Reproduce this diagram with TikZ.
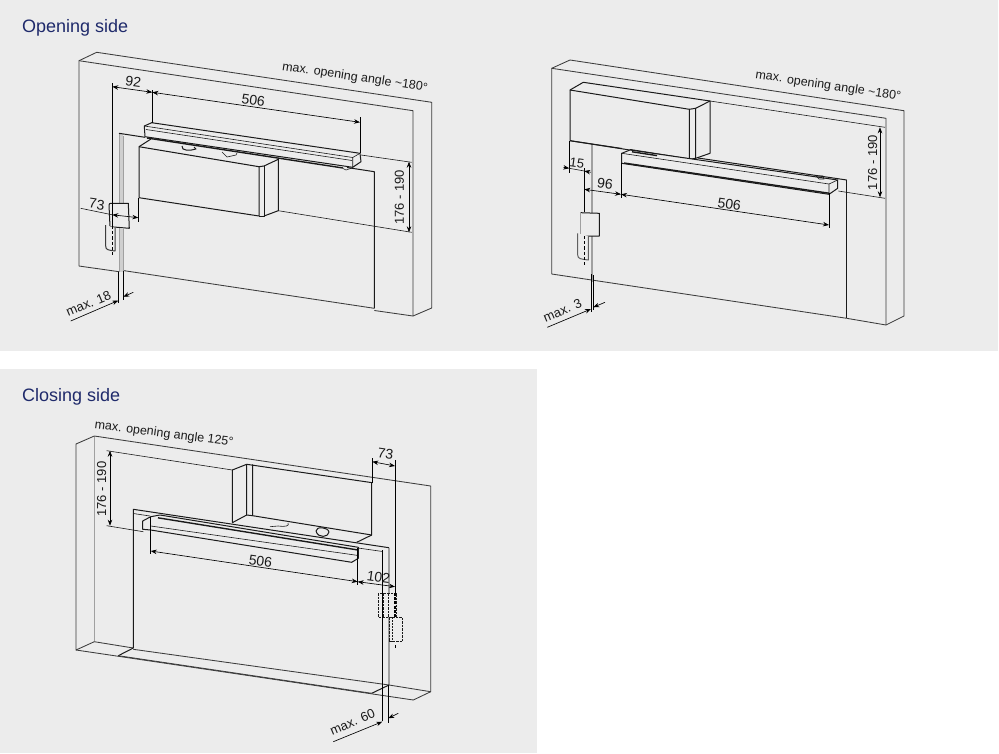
\documentclass[tikz,border=0pt]{standalone}
\usepackage{fontspec}
\setmainfont{Liberation Sans}
\usetikzlibrary{arrows.meta}
\definecolor{panel}{HTML}{ECECEC}
\definecolor{navy}{HTML}{1F2A6B}
\definecolor{ink}{HTML}{1A1A1A}
\definecolor{framegray}{HTML}{A0A0A0}
\definecolor{framefill}{HTML}{CFCFCF}
\definecolor{wallline}{HTML}{3C3C3C}
\tikzset{
 wall/.style={draw=wallline,line width=0.85pt,line join=round},
 ln/.style={draw=ink,line width=1pt,line join=round},
 thin/.style={draw=ink,line width=0.6pt},
 heavy/.style={draw=ink,line width=1.4pt},
 gframe/.style={draw=framegray,line width=1.6pt},
 ext/.style={draw=black,line width=0.95pt},
 dim/.style={draw=black,line width=0.65pt,{Stealth[length=6pt,width=4.5pt]}-{Stealth[length=6pt,width=4.5pt]}},
 outarrow/.style={draw=black,line width=0.65pt,-{Stealth[length=6pt,width=4.5pt]}},
 hid/.style={draw=black,line width=0.8pt,dash pattern=on 3.2pt off 2pt},
 lab/.style={inner sep=0pt,text=ink,font=\fontsize{14}{15}\selectfont},
 lablong/.style={inner sep=0pt,text=ink,font=\fontsize{12.5}{13}\selectfont},
 labmax/.style={inner sep=0pt,text=ink,rotate=23,font=\fontsize{13}{14}\selectfont},
 labv/.style={inner sep=0pt,text=ink,rotate=90,font=\fontsize{13}{14}\selectfont},
 title/.style={inner sep=0pt,anchor=west,text=navy,font=\fontsize{18}{20}\selectfont},
}
\begin{document}
\begin{tikzpicture}[x=1pt,y=-1pt]
\useasboundingbox (0,0) rectangle (999,753);
\fill[white] (0,0) rectangle (999,753);
\fill[panel] (0,0) rectangle (998,351);
\fill[panel] (0,369) rectangle (537,753);
\node[title] (t1) at (22,27.5) {Opening side};
\node[title] (t2) at (22,396.5) {Closing side};

% ---------- Diagram 1
\fill[framefill] (119,133.3) rectangle (123.3,272);
\draw[gframe,line width=0.9pt] (119,133.3) -- (119,272);
\draw[gframe,line width=0.9pt] (123.3,136) -- (123.3,272);
\draw[wall] (79,266) -- (79,60.7) -- (96.7,52.3) -- (431.7,102.3) -- (431.7,308) -- (413,316) -- (374.3,310.5);
\draw[wall] (79,60.7) -- (413,110.7) -- (413,316);
\draw[wall] (79,266) -- (119,271.7);
\draw[wall] (123,270.5) -- (374.3,308.3);
\draw[ln] (119,133.3) -- (145,137.3);
\draw[ln] (347,167.5) -- (374.3,171.7) -- (374.3,308.3);
\draw[thin] (361,155) -- (411.7,162.3);
\draw[thin] (278.3,210.7) -- (411.7,232.3);
% leaf
\draw[ln] (139,197.7) -- (139,146.7) -- (151,139);
\draw[ln] (139,146.7) -- (259,166.7) -- (259,216) -- (139,197.7);
\draw[ln] (264,166) -- (264,216) -- (259,216);
\draw[ln] (259,166.7) -- (264,166) -- (278.3,159.3) -- (278.3,210.7) -- (264,216);
% arm
\draw[ln] (182,146) .. controls (181,151) and (190,151) .. (196,149) -- (194,147);
\draw[thin] (222,152) -- (227,157) -- (236,155) -- (237,153);
% closer
\draw[ln,fill=panel] (144.3,126) -- (151.7,122.7) -- (360,153.3) -- (361,161.7) -- (352.7,167.3) -- (145,136.7) -- cycle;
\draw[thin] (144.3,126) -- (352.7,157.5) -- (352.7,167.3);
\draw[thin] (352.7,157.5) -- (360,153.3);
\draw[thin] (146,129.5) -- (352,160.5);
\draw[heavy] (147,138) -- (343,168);
\draw[thin] (343,168.5) -- (346,170) -- (352,168);
% handle
\draw[ln,fill=panel] (109,205) .. controls (109,203.5) and (110,203.3) .. (111,203.3) -- (128.3,203.3) -- (129.3,228.3) -- (110,226.7) -- cycle;
\fill[framefill] (119,228) rectangle (123.3,272);
\draw[gframe,line width=0.9pt] (119,228) -- (119,272);
\draw[gframe,line width=0.9pt] (123.3,228) -- (123.3,272);
\draw[ln,draw=wallline,fill=panel] (105.7,225) -- (105.7,246) .. controls (105.7,250) and (108,250) .. (115,251) -- (115,228);
% dims
\coordinate (a92) at (112.3,86.7); \coordinate (b92) at (152.3,92.3); \coordinate (b506) at (360,122.3);
\draw[ext] (112.3,83.3) -- (112.3,226);
\draw[hid] (112.3,226) -- (112.3,255);
\draw[ext] (152.3,90) -- (152.3,122.7);
\draw[ext] (360,117.3) -- (360,153.3);
\draw[dim] (a92) -- (b92);
\draw[dim] (b92) -- (b506);
\coordinate (a176) at (409,161.7); \coordinate (b176) at (409,232.3);
\draw[dim] (a176) -- (b176);
\coordinate (a73) at (112.3,214.8); \coordinate (b73) at (138.3,217.7); \coordinate (c73) at (80.7,208.3);
\draw[thin] (c73) -- (a73);
\draw[dim] (a73) -- (b73);
\draw[ext] (138.3,197.7) -- (138.3,221.7);
\draw[ext] (118.3,271.7) -- (118.3,303.3);
\draw[ext] (123.3,270.5) -- (123.3,300);
\coordinate (m1a) at (70.7,321); \coordinate (m1b) at (118.3,300.5); \coordinate (m1c) at (133.3,292.3); \coordinate (m1d) at (123.3,296.8);
\draw[outarrow] (m1a) -- (m1b);
\draw[outarrow] (m1c) -- (m1d);
\node[lablong,rotate=-8.5] (n1) at (355,77.7) {max. opening angle \textasciitilde180°};
\node[lab,rotate=-8] (n2) at (133.3,81.7) {92};
\node[lab,rotate=-8] (n3) at (253.3,100) {506};
\node[labv] (n4) at (399.3,197.3) {176 - 190};
\node[lab,rotate=-8] (n5) at (96.7,204.3) {73};
\node[labmax] (n6) at (88.5,303.5) {max. 18};

% ---------- Diagram 2
\draw[gframe] (592.2,144) -- (592.2,282);
\draw[wall] (551.7,274) -- (551.7,68.3) -- (570,60) -- (904,110.7) -- (904,316) -- (886,325) -- (846.7,318.3);
\draw[wall] (551.7,68.3) -- (886,118.3) -- (886,325);
\draw[wall] (551.7,274) -- (846.7,318.3);
\draw[thin] (710,101) -- (885,127.3);
\draw[thin] (838.3,191) -- (885,198.3);
\draw[ln] (846.7,180) -- (846.7,318.3);
\draw[ln] (698,158) -- (846.7,180);
\draw[ln] (570,140.7) -- (622,148.5);
\draw[ln] (630,149.5) -- (690,159);
% leaf
\draw[ln] (570,140.7) -- (570,90) -- (583.3,82.3) -- (710,101) -- (710,153.3) -- (695.7,158.3);
\draw[ln] (570,90) -- (689.3,109.3) -- (689.3,159.3) -- (570,140.7);
\draw[ln] (689.3,109.3) -- (695.7,108.3) -- (695.7,158.3) -- (689.3,159.3);
\draw[ln] (695.7,108.3) -- (710,101);
% closer
\draw[ln,fill=panel] (621.7,153.3) -- (630,150) -- (837.7,180) -- (837.7,188.3) -- (829,194.3) -- (621.7,163.3) -- cycle;
\draw[thin] (621.7,153.3) -- (829,184) -- (829,194.3);
\draw[thin] (829,184) -- (837.7,180);
\draw[heavy] (624,163) -- (829,193.2);
\draw[thin] (816,176) -- (819,179) -- (824,179) -- (823,176) -- cycle;
\draw[heavy] (632,151.8) -- (657,155.6);
% handle
\draw[gframe,line width=1pt] (592.2,236) -- (592.2,282);
\draw[ln,fill=panel] (580.7,212.7) -- (599.3,213.3) -- (599.3,236) -- (580.7,236);
\draw[gframe,line width=1.2pt] (580.7,212.7) -- (580.7,236);
\draw[ln,draw=framegray!60!black,fill=panel] (577.7,233.3) -- (577.7,255) .. controls (577.7,259) and (581,259) .. (588.3,260) -- (588.3,236);
% dims
\draw[ext] (569.3,141) -- (569.3,172.7);
\draw[ext] (584.3,168) -- (584.3,212);
\draw[hid] (584.3,236) -- (584.3,267);
\draw[ext] (621,163.3) -- (621,198.3);
\draw[ext] (829,193) -- (829,227.7);
\draw[ext] (591,274) -- (591,311.7);
\draw[ext] (593.3,275) -- (593.3,310);
\coordinate (e15a) at (563.3,167.3); \coordinate (e15b) at (569.3,168.3);
\coordinate (e15c) at (590.7,172.3); \coordinate (e15d) at (584.3,171);
\draw[outarrow] (e15a) -- (e15b);
\draw[outarrow] (e15c) -- (e15d);
\draw[thin] (e15b) -- (e15d);
\coordinate (a96) at (584.3,189.3); \coordinate (b96) at (621,194.3); \coordinate (c96) at (829,225);
\draw[dim] (a96) -- (b96);
\draw[dim] (b96) -- (c96);
\coordinate (a2176) at (880,127.3); \coordinate (b2176) at (880,197.3);
\draw[dim] (a2176) -- (b2176);
\coordinate (m2a) at (547.3,327.3); \coordinate (m2b) at (591,309); \coordinate (m2c) at (605,302.3); \coordinate (m2d) at (593.3,307.3);
\draw[outarrow] (m2a) -- (m2b);
\draw[outarrow] (m2c) -- (m2d);
\node[lablong,rotate=-8.5] (n7) at (828.3,86) {max. opening angle \textasciitilde180°};
\node[lab,font=\fontsize{13}{14}\selectfont,rotate=-8] (n8) at (577,163.5) {15};
\node[lab,rotate=-8] (n9) at (605,184) {96};
\node[lab,rotate=-8] (n10) at (729.3,204) {506};
\node[labv] (n11) at (872.7,162.7) {176 - 190};
\node[labmax] (n12) at (562.5,310.5) {max. 3};

% ---------- Diagram 3
\draw[gframe,line width=2pt] (388.5,548) -- (388.5,685);
\draw[gframe,line width=1.2pt] (94.3,436) -- (94.3,641.7);
\draw[wall] (94.3,436) -- (76,444) -- (76,650) -- (94.3,641.7);
\draw[wall] (94.3,436) -- (430.7,486) -- (430.7,691.7) -- (413.3,700) -- (76,650);
\draw[wall] (94.3,641.7) -- (133.3,648);
\draw[wall] (133.3,649.3) -- (389,685) -- (430.7,691.7);
\draw[ln] (118.3,655.7) -- (133.3,648);
\draw[wall] (118.3,655.7) -- (371.7,693.3);
\draw[ln] (371.7,693.3) -- (389,685);
\draw[ln] (133.3,648) -- (133.3,509.3) -- (389,547.7);
\draw[thin] (133.3,513.5) -- (150,516);
\draw[thin] (358,548) -- (382.7,551.5);
% leaf
\draw[thin] (106.7,450.7) -- (232.3,470);
\draw[ln] (232.3,522.7) -- (232.3,470) -- (246.7,464.3) -- (372.3,482.7);
\draw[ln] (246.7,464.3) -- (246.7,515) -- (232.3,522.7);
\draw[ln] (252.7,464.3) -- (252.7,515.7) -- (371.7,535) -- (371.7,482.7);
\draw[ln] (246.7,515) -- (252.7,515.7);
\draw[ln] (371.7,535) -- (356.7,542.3);
\draw[thin] (106.7,525.7) -- (143.3,531.7);
% arm
\draw[thin] (270,526.7) -- (278,526) .. controls (285,527) and (290,526) .. (288,523);
\draw[ln] (316,531) .. controls (316,526) and (328,527) .. (329,532) .. controls (329,537) and (318,539) .. (316,531);
% closer
\draw[ln,fill=panel] (142.7,521) -- (150.7,516.7) -- (160,515) -- (358.3,547.3) -- (358.3,558.3) -- (351.7,562.3) -- (150.7,530) -- (142.7,529.3) -- cycle;
\draw[heavy] (158,517.8) -- (358,550);
\draw[thin] (150.7,526) -- (358.3,555.5);
\draw[ln] (150.7,517) -- (150.7,530);
\draw[ln] (358.3,547.3) -- (358.3,558.3);
% handle
\draw[thin,dash pattern=on 2.5pt off 1pt,fill=panel] (378.3,593.3) rectangle (396.7,617.3);
\draw[thin,dash pattern=on 2.5pt off 1pt] (383,593.3) -- (383,617.3);
\draw[thin,dash pattern=on 2.5pt off 1pt] (388,593.3) -- (388,617.3);
\draw[thin,dash pattern=on 2.5pt off 1pt] (389.3,617.3) rectangle (402.7,641.7);
\draw[thin,dash pattern=on 2pt off 1pt] (392,617.3) -- (392,641.7);
% dims
\draw[ext] (150.7,516.7) -- (150.7,554.3);
\draw[ext] (357.7,548) -- (357.7,585);
\draw[ext] (372.3,458.3) -- (372.3,482.7);
\draw[ext] (395,460) -- (395,593);
\draw[draw=black,dash pattern=on 3pt off 1.2pt,line width=1.2pt] (395,593) -- (395,617);
\draw[ext] (395,645) -- (395,648);
\draw[ext] (382.7,550) -- (382.7,720.5);
\draw[ext] (388.3,685) -- (388.3,722.5);
\coordinate (a3176) at (110,450.7); \coordinate (b3176) at (110,525.7);
\draw[dim] (a3176) -- (b3176);
\coordinate (a3506) at (150.7,551); \coordinate (b3506) at (357.7,581.7); \coordinate (c3102) at (395,586.7);
\draw[dim] (a3506) -- (b3506);
\draw[dim] (b3506) -- (c3102);
\coordinate (a373) at (372.3,461.7); \coordinate (b373) at (395,466);
\draw[dim] (a373) -- (b373);
\coordinate (m3a) at (333.3,741.7); \coordinate (m3b) at (382.3,721.7); \coordinate (m3c) at (398.3,713.3); \coordinate (m3d) at (388.3,718.3);
\draw[outarrow] (m3a) -- (m3b);
\draw[outarrow] (m3c) -- (m3d);
\node[lablong,rotate=-7.5] (n13) at (164,434) {max. opening angle 125°};
\node[labv] (n14) at (101.7,489) {176 - 190};
\node[lab,rotate=-8] (n15) at (260.5,561) {506};
\node[lab,rotate=-8] (n16) at (378.5,577.5) {102};
\node[lab,rotate=-8] (n17) at (385.5,453.5) {73};
\node[labmax] (n18) at (352.5,722) {max. 60};
\end{tikzpicture}
\end{document}
